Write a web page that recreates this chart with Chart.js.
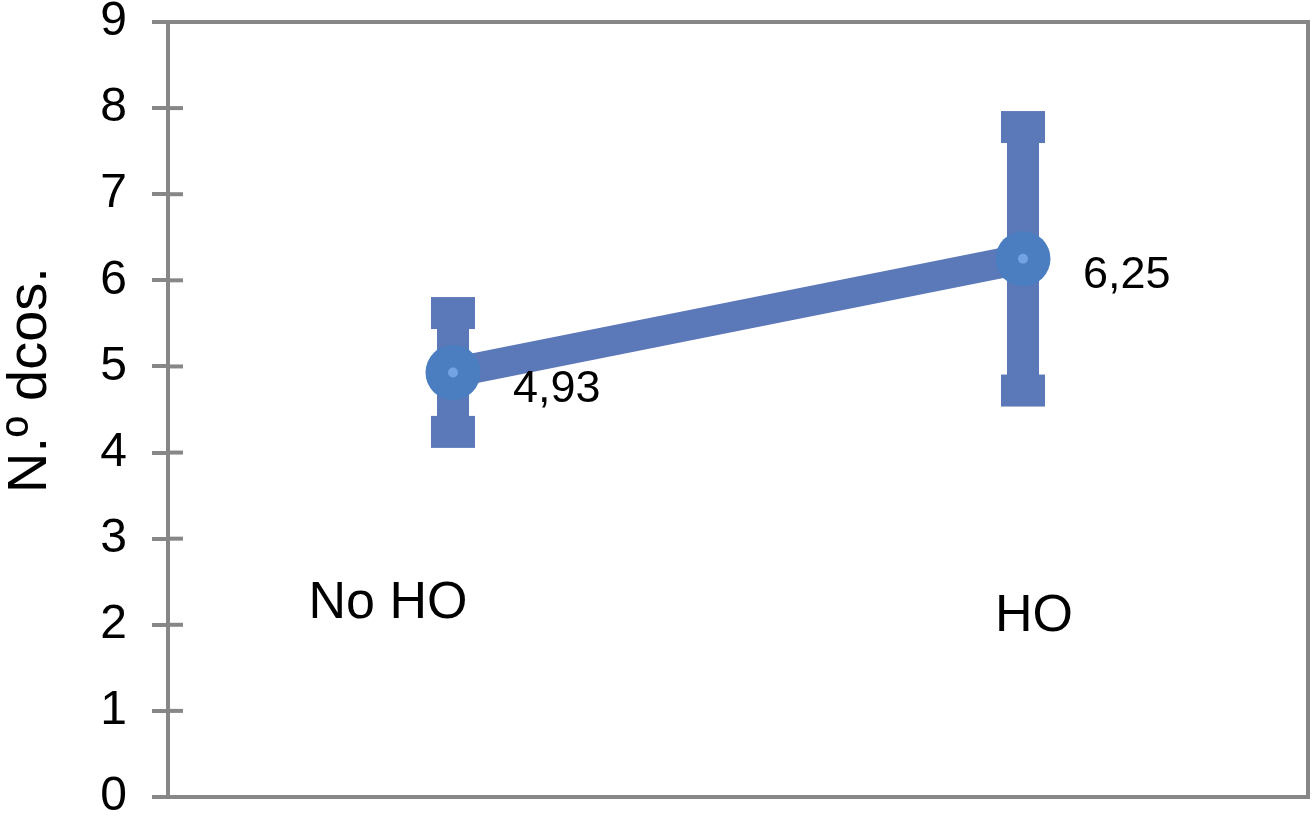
<!DOCTYPE html>
<html>
<head>
<meta charset="utf-8">
<script src="https://cdn.jsdelivr.net/npm/chart.js@4/dist/chart.umd.min.js"></script>
<style>
  html, body { margin: 0; padding: 0; background: #fff; overflow: hidden; }
  #wrap { width: 1313px; height: 829px; }
  canvas { display: block; }
</style>
</head>
<body>
<div id="wrap"><canvas id="chart"></canvas></div>
<script>
// donnees
const categories = ['No HO', 'HO'];
const means = [4.93, 6.25];
const errors = [0.69, 1.53];
const yTicks = [0, 1, 2, 3, 4, 5, 6, 7, 8, 9];
const yTitle = 'N.º dcos.';

const FONT = '"Liberation Sans", Arial, Helvetica, sans-serif';
const GREY = '#878787';
const BAR_BLUE = '#5b78b8';
const POINT_BLUE = '#4a7ec0';

// pas de marge auto autour des axes
function noPad(s) {
  s.paddingTop = 0; s.paddingBottom = 0;
  s.paddingLeft = 0; s.paddingRight = 0;
}

// barres d'erreur, cadre, etiquettes
const extras = {
  id: 'extras',
  beforeDatasetsDraw(chart) {
    const { ctx } = chart;
    const xs = chart.scales.x, ys = chart.scales.y;
    ctx.save();
    ctx.fillStyle = BAR_BLUE;
    means.forEach((m, i) => {
      const x = xs.getPixelForValue(i);
      const yTop = ys.getPixelForValue(m + errors[i]);
      const yBot = ys.getPixelForValue(m - errors[i]);
      ctx.fillRect(x - 16, yTop, 32, yBot - yTop);
      ctx.fillRect(x - 22, yTop - 16, 44, 32);
      ctx.fillRect(x - 22, yBot - 16, 44, 32);
    });
    ctx.restore();
  },
  afterDraw(chart) {
    const { ctx, chartArea: a } = chart;
    const xs = chart.scales.x, ys = chart.scales.y;
    ctx.save();
    // cadre haut et droite
    ctx.strokeStyle = GREY;
    ctx.lineWidth = 4;
    ctx.beginPath();
    ctx.moveTo(a.left - 2, a.top);
    ctx.lineTo(a.right, a.top);
    ctx.lineTo(a.right, a.bottom + 2);
    ctx.stroke();
    // partie interieure des graduations
    ys.ticks.forEach(t => {
      const y = ys.getPixelForValue(t.value);
      ctx.beginPath();
      ctx.moveTo(a.left, y);
      ctx.lineTo(a.left + 15, y);
      ctx.stroke();
    });
    // valeurs
    ctx.fillStyle = '#000';
    ctx.font = '45px ' + FONT;
    ctx.textAlign = 'left';
    ctx.textBaseline = 'middle';
    means.forEach((m, i) => {
      const x = xs.getPixelForValue(i);
      const y = ys.getPixelForValue(m);
      ctx.fillText(m.toFixed(2).replace('.', ','), x + 60, y + 17);
    });
    // noms des groupes
    ctx.font = '52px ' + FONT;
    ctx.textAlign = 'center';
    ctx.fillText(categories[0], xs.getPixelForValue(0) - 65, ys.getPixelForValue(2.25));
    ctx.fillText(categories[1], xs.getPixelForValue(1) + 11, ys.getPixelForValue(2.1));
    // titre de l'axe y
    ctx.translate(31, 380);
    ctx.rotate(-Math.PI / 2);
    ctx.font = '56px ' + FONT;
    ctx.fillText(yTitle, 0, 0);
    ctx.restore();
  }
};

new Chart(document.getElementById('chart'), {
  type: 'line',
  data: {
    labels: categories,
    datasets: [{
      data: means,
      borderColor: BAR_BLUE,
      borderWidth: 30,
      pointRadius: 27.5,
      pointHoverRadius: 27.5,
      pointBackgroundColor: POINT_BLUE,
      pointBorderWidth: 0,
      tension: 0,
      order: 2
    }, {
      data: means,
      showLine: false,
      pointRadius: 5,
      pointBackgroundColor: '#73a3e2',
      pointBorderWidth: 0,
      order: 1
    }]
  },
  options: {
    responsive: true,
    maintainAspectRatio: false,
    animation: false,
    events: [],
    layout: { autoPadding: false, padding: { top: 22, bottom: 32, right: 5, left: 0 } },
    plugins: { legend: { display: false }, tooltip: { enabled: false } },
    scales: {
      x: {
        offset: true,
        grid: { display: false },
        ticks: { display: false },
        border: { display: true, color: GREY, width: 4 },
        afterFit(s) { s.height = 0; noPad(s); }
      },
      y: {
        min: 0,
        max: 9,
        afterBuildTicks(s) { s.ticks = yTicks.map(v => ({ value: v })); },
        grid: { drawOnChartArea: false, drawTicks: true, tickLength: 16, lineWidth: 4, color: GREY },
        border: { display: true, color: GREY, width: 4 },
        ticks: { color: '#000', padding: 25, font: { family: FONT, size: 48 } },
        afterFit(s) { s.width = 168; noPad(s); }
      }
    }
  },
  plugins: [extras]
});
</script>
</body>
</html>
